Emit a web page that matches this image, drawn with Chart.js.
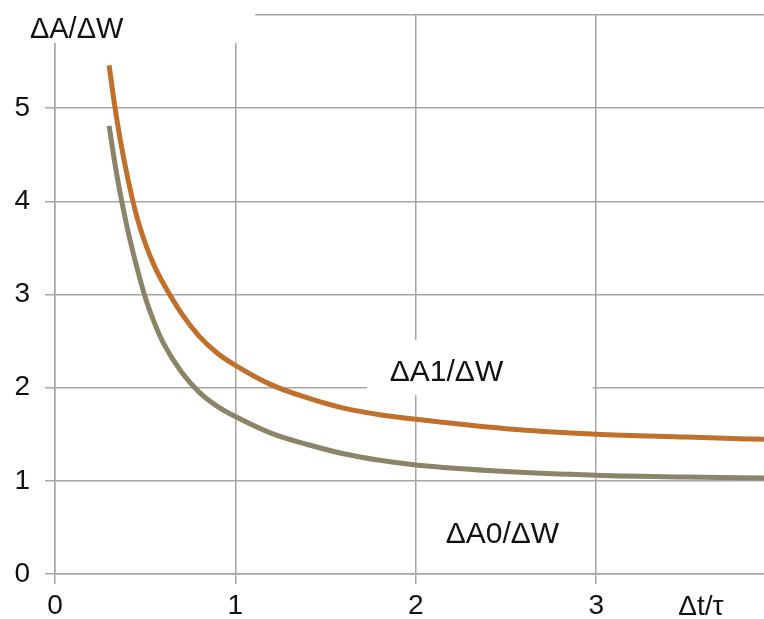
<!DOCTYPE html>
<html>
<head>
<meta charset="utf-8">
<script src="https://cdn.jsdelivr.net/npm/chart.js@4"></script>
<style>
  html, body { margin: 0; padding: 0; background: #fff; }
  #wrap { width: 764px; height: 619px; }
</style>
</head>
<body>
<div id="wrap"><canvas id="chart"></canvas></div>
<script>
// values
const dtTau = [0.30, 0.33, 0.36, 0.40, 0.45, 0.50, 0.55, 0.60, 0.70, 0.80, 0.90, 1.00, 1.20, 1.40, 1.60, 1.80, 2.00, 2.50, 3.00, 3.50, 3.93];
const a1 = [5.46, 5.04, 4.68, 4.28, 3.86, 3.55, 3.31, 3.12, 2.80, 2.55, 2.37, 2.24, 2.03, 1.89, 1.78, 1.71, 1.66, 1.56, 1.50, 1.47, 1.445];
const a0 = [4.81, 4.43, 4.10, 3.72, 3.32, 2.97, 2.70, 2.48, 2.17, 1.95, 1.80, 1.69, 1.51, 1.39, 1.29, 1.22, 1.17, 1.10, 1.06, 1.04, 1.03];
const xTicks = [0, 1, 2, 3];
const yTicks = [0, 1, 2, 3, 4, 5, 6];

const font = '"Liberation Sans", Arial, sans-serif';
const gridColor = "#a6a6a6";
const textColor = "#111";

// white boxes behind the labels, in data units: [x1, x2, y1, y2]
const labels = [
  { text: "\u0394A1/\u0394W", x: 2.17, y: 2.16, size: 30, box: [1.73, 2.98, 1.92, 2.51] },
  { text: "\u0394A0/\u0394W", x: 2.48, y: 0.42, size: 30, box: [2.1, 2.99, 0.18, 0.77] },
  { text: "\u0394A/\u0394W", x: 0.12, y: 5.84, size: 29, box: [-0.4, 1.11, 5.7, 6.3] }
];

const labelPlugin = {
  id: "labels",
  beforeDatasetsDraw(chart) {
    const { ctx, scales } = chart;
    const xs = scales.x, ys = scales.y;
    ctx.save();
    ctx.fillStyle = "#fff";
    labels.forEach((l) => {
      const x1 = xs.getPixelForValue(l.box[0]);
      const x2 = xs.getPixelForValue(l.box[1]);
      const y1 = ys.getPixelForValue(l.box[3]);
      const y2 = ys.getPixelForValue(l.box[2]);
      ctx.fillRect(x1, y1, x2 - x1, y2 - y1);
    });
    ctx.fillStyle = textColor;
    ctx.textAlign = "center";
    ctx.textBaseline = "middle";
    labels.forEach((l) => {
      ctx.font = l.size + "px " + font;
      ctx.fillText(l.text, xs.getPixelForValue(l.x), ys.getPixelForValue(l.y));
    });
    ctx.restore();
  },
  afterDraw(chart) {
    const { ctx, scales } = chart;
    ctx.save();
    ctx.fillStyle = textColor;
    ctx.font = "28px " + font;
    ctx.textAlign = "center";
    ctx.textBaseline = "middle";
    ctx.fillText("\u0394t/\u03c4", scales.x.getPixelForValue(3.58), 607);
    ctx.restore();
  }
};

new Chart(document.getElementById("chart"), {
  type: "line",
  data: {
    datasets: [
      {
        label: "\u0394A1/\u0394W",
        data: dtTau.map((x, i) => ({ x: x, y: a1[i] })),
        borderColor: "#c0702a",
        borderWidth: 5,
        pointRadius: 0,
        cubicInterpolationMode: "monotone",
        fill: false
      },
      {
        label: "\u0394A0/\u0394W",
        data: dtTau.map((x, i) => ({ x: x, y: a0[i] })),
        borderColor: "#8c8468",
        borderWidth: 5,
        pointRadius: 0,
        cubicInterpolationMode: "monotone",
        fill: false
      }
    ]
  },
  options: {
    responsive: true,
    maintainAspectRatio: false,
    animation: false,
    layout: { padding: { top: 15, right: 0, bottom: 0, left: 0 } },
    plugins: {
      legend: { display: false },
      tooltip: { enabled: false }
    },
    scales: {
      x: {
        type: "linear",
        min: 0,
        max: 3.93,
        afterBuildTicks: (s) => { s.ticks = xTicks.map((v) => ({ value: v })); },
        afterFit: (s) => { s.height = 45; s.paddingRight = 0; },
        grid: { color: gridColor, lineWidth: 1.5, tickLength: 10 },
        border: { color: gridColor, width: 1.5 },
        ticks: {
          color: textColor,
          font: { family: font, size: 28 },
          padding: 5,
          maxRotation: 0
        }
      },
      y: {
        min: 0,
        max: 6,
        afterBuildTicks: (s) => { s.ticks = yTicks.map((v) => ({ value: v })); },
        afterFit: (s) => { s.width = 55; s.paddingTop = 0; s.paddingBottom = 0; },
        grid: { color: gridColor, lineWidth: 1.5, tickLength: 10 },
        border: { color: gridColor, width: 1.5 },
        ticks: {
          color: textColor,
          font: { family: font, size: 28 },
          padding: 15,
          callback: (v) => (v === 6 ? "" : v)
        }
      }
    }
  },
  plugins: [labelPlugin]
});
</script>
</body>
</html>
